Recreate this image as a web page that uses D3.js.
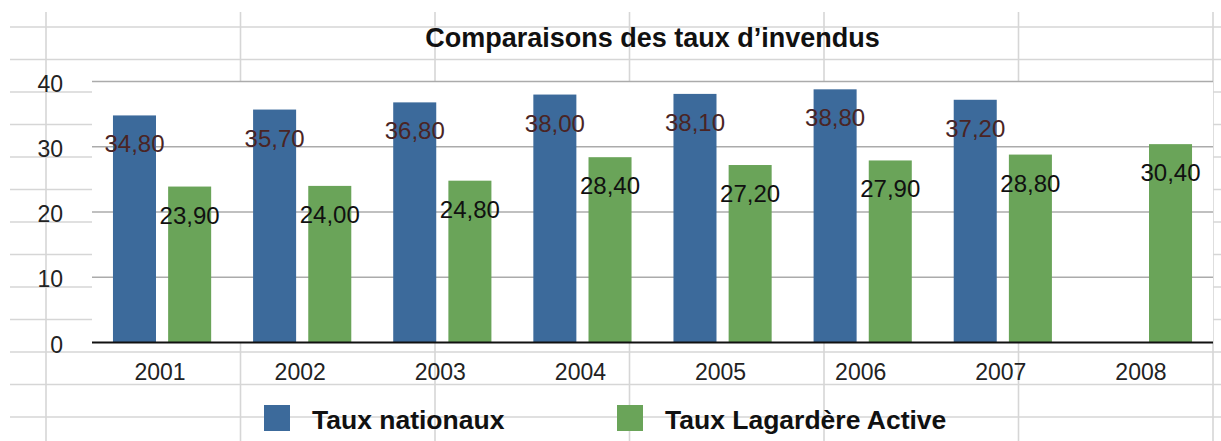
<!DOCTYPE html>
<html>
<head>
<meta charset="utf-8">
<script src="https://cdn.jsdelivr.net/npm/d3@7"></script>
<style>
  body { margin: 0; background: #fff; }
  svg { display: block; font-family: "Liberation Sans", Arial, Helvetica, sans-serif; }
</style>
</head>
<body>
<div class="chart"></div>
<script>
// chart values
const years = ['2001', '2002', '2003', '2004', '2005', '2006', '2007', '2008'];
const seriesNames = ['Taux nationaux', 'Taux Lagardère Active'];
const tauxNationaux = [34.8, 35.7, 36.8, 38.0, 38.1, 38.8, 37.2, null];
const tauxLagardere = [23.9, 24.0, 24.8, 28.4, 27.2, 27.9, 28.8, 30.4];
const yTicks = [0, 10, 20, 30, 40];
const title = 'Comparaisons des taux d\u2019invendus';

const w = 1221;
const h = 441;
const plotL = 92, plotR = 1213, plotT = 81.5, plotB = 342.5;
const colors = ['#3c6a9b', '#6aa459'];
const labelColors = ['#4a2424', '#111111'];

const svg = d3.select('div.chart')
  .append('svg')
  .attr('width', w)
  .attr('height', h);

svg.append('rect')
  .attr('width', w)
  .attr('height', h)
  .attr('fill', '#fff');

// spreadsheet grid behind the chart
const rowLines = d3.range(13).map((i) => 27 + i * 32.5);
const colLines = d3.range(7).map((i) => 46 + i * 194.5);

svg.append('g')
  .selectAll('line')
  .data(rowLines)
  .enter()
  .append('line')
  .attr('x1', 10)
  .attr('x2', w)
  .attr('y1', (d) => d)
  .attr('y2', (d) => d)
  .attr('stroke', '#d6d6d6')
  .attr('stroke-width', 1.6);

svg.append('g')
  .selectAll('line')
  .data(colLines)
  .enter()
  .append('line')
  .attr('x1', (d) => d)
  .attr('x2', (d) => d)
  .attr('y1', 12)
  .attr('y2', h)
  .attr('stroke', '#d6d6d6')
  .attr('stroke-width', 1.6);

// plot area covers the sheet
svg.append('rect')
  .attr('x', plotL)
  .attr('y', plotT)
  .attr('width', plotR - plotL)
  .attr('height', plotB - plotT)
  .attr('fill', '#fff');

const xScale = d3.scaleBand()
  .domain(years)
  .range([plotL, plotR]);

const subScale = d3.scaleBand()
  .domain([0, 1])
  .range([0, xScale.bandwidth()])
  .paddingInner(0.22)
  .paddingOuter(0.38);

const yScale = d3.scaleLinear()
  .domain([0, 40])
  .range([plotB, plotT]);

// gridlines
svg.append('g')
  .selectAll('line')
  .data(yTicks.filter((d) => d > 0))
  .enter()
  .append('line')
  .attr('x1', plotL)
  .attr('x2', plotR)
  .attr('y1', (d) => yScale(d))
  .attr('y2', (d) => yScale(d))
  .attr('stroke', '#ababab')
  .attr('stroke-width', 1.5);

// y labels
svg.append('g')
  .selectAll('text')
  .data(yTicks)
  .enter()
  .append('text')
  .text((d) => d)
  .attr('x', 63)
  .attr('y', (d) => yScale(d) + 10)
  .attr('text-anchor', 'end')
  .attr('font-size', 23)
  .attr('fill', '#222');

// bars
const rows = [];
years.forEach((y, i) => {
  [tauxNationaux[i], tauxLagardere[i]].forEach((v, s) => {
    if (v != null) rows.push({year: y, s: s, v: v});
  });
});

svg.append('g')
  .selectAll('rect')
  .data(rows)
  .enter()
  .append('rect')
  .attr('x', (d) => xScale(d.year) + subScale(d.s))
  .attr('width', subScale.bandwidth())
  .attr('y', (d) => yScale(d.v))
  .attr('height', (d) => plotB - yScale(d.v))
  .attr('fill', (d) => colors[d.s]);

// value labels
svg.append('g')
  .selectAll('text')
  .data(rows)
  .enter()
  .append('text')
  .text((d) => d.v.toFixed(2).replace('.', ','))
  .attr('x', (d) => xScale(d.year) + subScale(d.s) + subScale.bandwidth() / 2)
  .attr('y', (d) => yScale(d.v) + 37)
  .attr('text-anchor', 'middle')
  .attr('font-size', 24)
  .attr('fill', (d) => labelColors[d.s]);

// baseline
svg.append('line')
  .attr('x1', plotL)
  .attr('x2', plotR)
  .attr('y1', plotB)
  .attr('y2', plotB)
  .attr('stroke', '#111')
  .attr('stroke-width', 2);

// x labels
svg.append('g')
  .selectAll('text')
  .data(years)
  .enter()
  .append('text')
  .text((d) => d)
  .attr('x', (d) => xScale(d) + xScale.bandwidth() / 2 - 2)
  .attr('y', 380)
  .attr('text-anchor', 'middle')
  .attr('font-size', 23)
  .attr('fill', '#222');

// title
svg.append('text')
  .text(title)
  .attr('x', (plotL + plotR) / 2)
  .attr('y', 47)
  .attr('text-anchor', 'middle')
  .attr('font-size', 27)
  .attr('font-weight', 'bold')
  .attr('fill', '#111');

// legend
const legendX = [264, 617];
const legend = svg.append('g')
  .selectAll('g')
  .data(seriesNames)
  .enter()
  .append('g')
  .attr('transform', (d, i) => 'translate(' + legendX[i] + ',405)');

legend.append('rect')
  .attr('width', 26)
  .attr('height', 26)
  .attr('fill', (d, i) => colors[i]);

legend.append('text')
  .text((d) => d)
  .attr('x', 48)
  .attr('y', 24)
  .attr('font-size', 26.5)
  .attr('font-weight', 'bold')
  .attr('fill', '#111');
</script>
</body>
</html>
